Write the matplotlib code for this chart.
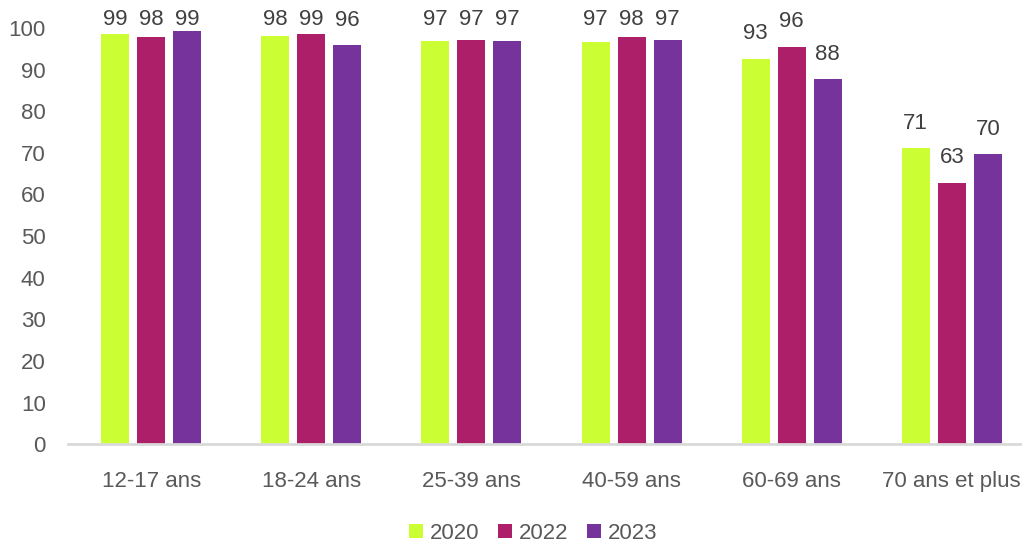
import numpy as np
import matplotlib.pyplot as plt

categories = ["12-17 ans", "18-24 ans", "25-39 ans", "40-59 ans", "60-69 ans", "70 ans et plus"]
years = ["2020", "2022", "2023"]
v2020 = [98.6, 98.0, 96.8, 96.6, 92.6, 71.1]
v2022 = [97.8, 98.6, 97.1, 97.9, 95.5, 62.8]
v2023 = [99.3, 95.8, 96.8, 97.1, 87.7, 69.6]
colors = ["#CCFF33", "#AD1F69", "#76339B"]

plt.rcParams['font.family'] = ['Liberation Sans', 'DejaVu Sans']

fig = plt.figure(figsize=(10.22, 5.47), dpi=100)
ax = fig.add_axes([0.0665, 0.188, 0.94, 0.761])

x = np.arange(len(categories))
width = 0.175
step = 0.225
series = [v2020, v2022, v2023]
for i, (vals, col, yr) in enumerate(zip(series, colors, years)):
    pos = x + (i - 1) * step
    ax.bar(pos, vals, width, color=col, label=yr, zorder=2)
    for px, v in zip(pos, vals):
        ax.text(px, min(v + 6, 102.0), f"{round(v)}", ha='center', va='center',
                fontsize=16, color='#404040', clip_on=False)

ax.set_xlim(-0.52, len(categories) - 0.52)
ax.set_ylim(0, 100)
ax.set_yticks(range(0, 101, 10))
ax.set_xticks(x)
ax.set_xticklabels(categories)
ax.tick_params(axis='both', length=0, labelsize=16, colors='#595959')
ax.tick_params(axis='y', pad=16)
ax.tick_params(axis='x', pad=19)
for s in ['top', 'right', 'left']:
    ax.spines[s].set_visible(False)
ax.spines['bottom'].set_color('#D9D9D9')
ax.spines['bottom'].set_linewidth(2)

fig.legend(loc='center', bbox_to_anchor=(0.522, 0.025), ncol=3, frameon=False,
           fontsize=16, handlelength=0.63, handleheight=0.63, handletextpad=0.3,
           columnspacing=0.85, labelcolor='#595959')

fig.savefig("out.png", dpi=100)
